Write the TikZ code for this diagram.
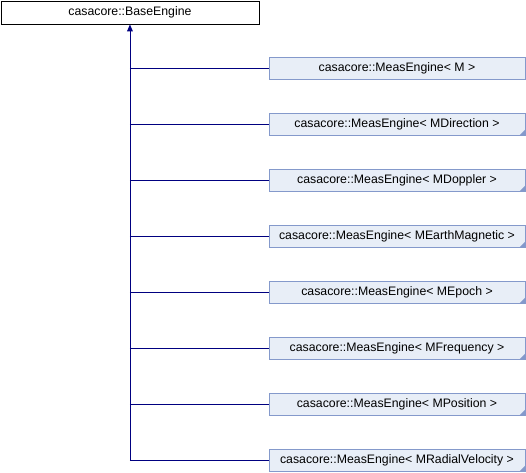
\documentclass[tikz,border=0pt]{standalone}
\usepackage{fontspec}
\setmainfont{Liberation Sans}
\usetikzlibrary{arrows.meta}
\definecolor{boxfill}{HTML}{E8EEF7}
\definecolor{boxline}{HTML}{8499CB}
\definecolor{linkcol}{HTML}{000080}
\tikzset{
  basebox/.style={draw=black, fill=white, line width=0.9pt, minimum width=258pt, minimum height=23pt, inner sep=0pt, font=\fontsize{12.3pt}{14pt}\selectfont},
  derbox/.style={draw=boxline, fill=boxfill, line width=0.9pt, minimum width=256pt, minimum height=22pt, inner sep=0pt, font=\fontsize{12.3pt}{14pt}\selectfont},
  link/.style={draw=linkcol, line width=0.9pt},
  corner/.style={fill=boxline, draw=none}
}
\newcommand{\cornermark}[1]{\fill[corner] ([xshift=-0.5pt,yshift=0.5pt]#1.south east) -- ++(0,5pt) -- ++(-5pt,-5pt) -- cycle;}
\begin{document}
\begin{tikzpicture}[x=1pt,y=1pt]
\useasboundingbox (0,0) rectangle (526,-472);
\node[basebox, anchor=north west] (base) at (0.5,-0.5) {casacore::BaseEngine};
\node[derbox] (d1) at (397,-68) {casacore::MeasEngine< M >};
\node[derbox] (d2) at (397,-124) {casacore::MeasEngine< MDirection >};
\node[derbox] (d3) at (397,-180) {casacore::MeasEngine< MDoppler >};
\node[derbox] (d4) at (397,-236) {casacore::MeasEngine< MEarthMagnetic >};
\node[derbox] (d5) at (397,-292) {casacore::MeasEngine< MEpoch >};
\node[derbox] (d6) at (397,-348) {casacore::MeasEngine< MFrequency >};
\node[derbox] (d7) at (397,-404) {casacore::MeasEngine< MPosition >};
\node[derbox] (d8) at (397,-460) {casacore::MeasEngine< MRadialVelocity >};
\foreach \n in {d2,d3,d4,d5,d6,d7,d8} {\cornermark{\n}}
\coordinate (top) at (base.south);
\coordinate (bot) at (top |- d8.west);
\draw[link] (top) ++(0,-6) -- (bot);
\fill[linkcol] (top) -- ++(-3,-7) -- ++(6,0) -- cycle;
\foreach \n in {d1,d2,d3,d4,d5,d6,d7,d8} {\draw[link] (top |- \n.west) -- (\n.west);}
\end{tikzpicture}
\end{document}
